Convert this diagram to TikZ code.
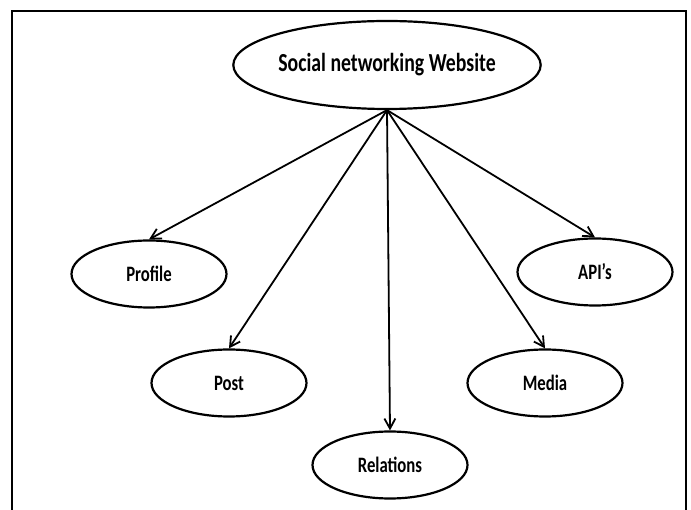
\documentclass[tikz,border=0pt]{standalone}
\usepackage{fontspec}
\setmainfont[FakeStretch=0.76]{Carlito}
\usetikzlibrary{arrows.meta,shapes.geometric}

\begin{document}
\begin{tikzpicture}[x=1pt,y=-1pt,
  bubble/.style={draw,ellipse,line width=2.2pt,inner sep=0pt,
    minimum width=155pt,minimum height=67pt,font=\fontsize{22}{22}\selectfont\bfseries},
  link/.style={line width=1.8pt,-{Straight Barb[length=10pt,width=11pt,line width=1.8pt]}}]
\useasboundingbox (0,0) rectangle (691,510);
\draw [line width=2.6pt] (12,540) -- (12,11) -- (686,11) -- (686,540);
\node [draw,ellipse,line width=2.2pt,inner sep=0pt,minimum width=304pt,minimum height=88pt,
  font=\fontsize{26}{26}\selectfont\bfseries] (web) at (387,65) {Social networking Website};
\node [bubble] (profile) at (149,274) {Profile};
\node [bubble] (post) at (229,383) {Post};
\node [bubble] (relations) at (390,465) {Relations};
\node [bubble] (media) at (545,383) {Media};
\node [bubble] (apis) at (595,272) {API’s};
\draw [link] (web.south) -- (profile.north);
\draw [link] (web.south) -- (post.north);
\draw [link] (web.south) -- (relations.north);
\draw [link] (web.south) -- (media.north);
\draw [link] (web.south) -- (apis.north);
\end{tikzpicture}
\end{document}
